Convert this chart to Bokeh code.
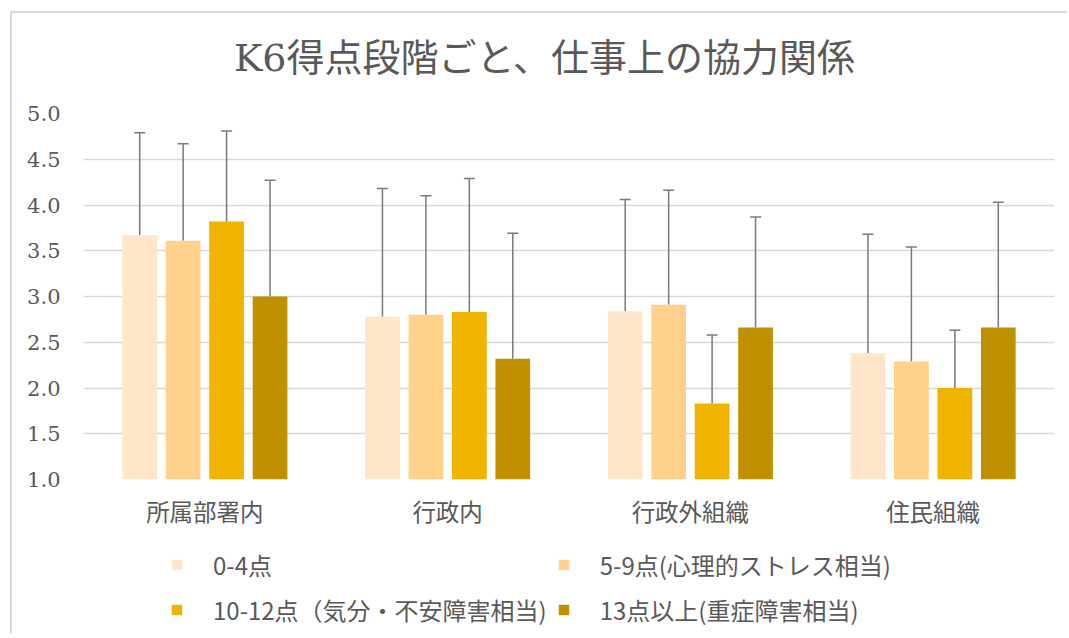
from bokeh.plotting import figure
from bokeh.layouts import column
from bokeh.models import (ColumnDataSource, FactorRange, Range1d, FixedTicker,
                          NumeralTickFormatter, Whisker, TeeHead, Legend, LegendItem, Label)
from bokeh.transform import dodge
from bokeh.embed import file_html
from bokeh.resources import INLINE

# ---- data ----
categories = ["所属部署内", "行政内", "行政外組織", "住民組織"]
series_names = ["0-4点", "5-9点(心理的ストレス相当)", "10-12点（気分・不安障害相当)", "13点以上(重症障害相当)"]
mean_0_4 = [3.67, 2.78, 2.84, 2.38]
mean_5_9 = [3.61, 2.80, 2.91, 2.29]
mean_10_12 = [3.82, 2.83, 1.83, 2.00]
mean_13 = [3.00, 2.32, 2.66, 2.66]
sd_0_4 = [1.12, 1.40, 1.22, 1.30]
sd_5_9 = [1.06, 1.30, 1.25, 1.25]
sd_10_12 = [0.99, 1.46, 0.75, 0.63]
sd_13 = [1.27, 1.37, 1.21, 1.37]
y_ticks = [1.0, 1.5, 2.0, 2.5, 3.0, 3.5, 4.0, 4.5, 5.0]
title_text = "K6得点段階ごと、仕事上の協力関係"

means = [mean_0_4, mean_5_9, mean_10_12, mean_13]
sds = [sd_0_4, sd_5_9, sd_10_12, sd_13]
colors = ["#FFE6C8", "#FFD18A", "#F0B400", "#BF9000"]

GRAY = "#595959"
CJK = "Noto Sans CJK JP"
W = 1055


def blank(height):
    f = figure(width=W, height=height, output_backend="svg", toolbar_location=None,
               x_axis_type=None, y_axis_type=None,
               x_range=Range1d(0, 1), y_range=Range1d(0, 1),
               min_border=0)
    f.outline_line_color = None
    f.grid.visible = False
    f.background_fill_color = "white"
    f.border_fill_color = "white"
    return f


# ---- title strip ----
ft = blank(80)
ft.add_layout(Label(x=461, y=36, x_units="screen", y_units="screen", text=title_text,
                    text_align="center", text_baseline="middle",
                    text_font="DejaVu Serif, Noto Sans CJK JP", text_font_size="38px",
                    text_color=GRAY))

# ---- main chart ----
p = figure(x_range=FactorRange(factors=categories, range_padding=0),
           y_range=Range1d(1.0, 5.0),
           width=W, height=440,
           output_backend="svg", toolbar_location=None,
           min_border_left=71, min_border_right=13,
           min_border_top=20, min_border_bottom=54)

p.outline_line_color = None
p.background_fill_color = "white"
p.border_fill_color = "white"

p.xgrid.grid_line_color = None
p.ygrid.grid_line_color = "#d9d9d9"
p.ygrid.grid_line_width = 1.5
p.ygrid.ticker = FixedTicker(ticks=y_ticks)

p.yaxis.ticker = FixedTicker(ticks=y_ticks)
p.yaxis.formatter = NumeralTickFormatter(format="0.0")
p.yaxis.axis_line_color = None
p.yaxis.major_tick_line_color = None
p.yaxis.minor_tick_line_color = None
p.yaxis.major_tick_out = 0
p.yaxis.major_label_standoff = 23
p.yaxis.major_label_text_font = "DejaVu Serif"
p.yaxis.major_label_text_font_size = "21px"
p.yaxis.major_label_text_color = GRAY

p.xaxis.axis_line_color = None
p.xaxis.major_tick_line_color = None
p.xaxis.major_tick_out = 0
p.xaxis.major_label_standoff = 14
p.xaxis.major_label_text_font = CJK
p.xaxis.major_label_text_font_size = "23.5px"
p.xaxis.major_label_text_color = GRAY

step = 0.179
bar_w = 0.143
for i in range(4):
    off = (i - 1.5) * step
    src = ColumnDataSource(dict(cat=categories, mean=means[i],
                                upper=[m + s for m, s in zip(means[i], sds[i])]))
    p.vbar(x=dodge("cat", off, range=p.x_range), top="mean", bottom=1.0,
           width=bar_w, source=src, fill_color=colors[i], line_color=None)
    p.add_layout(Whisker(source=src, base=dodge("cat", off, range=p.x_range),
                         upper="upper", lower="mean",
                         line_color="#7a7a7a", line_width=1.5,
                         upper_head=TeeHead(size=11, line_color="#7a7a7a", line_width=1.5),
                         lower_head=None))

# ---- legend strip (proxy renderers with no drawable data) ----
fl = blank(100)
items = []
nan = float("nan")
for i in range(4):
    r = fl.vbar(x=[nan], top=[nan], width=0.1, fill_color=colors[i], line_color=None)
    items.append(LegendItem(label=series_names[i], renderers=[r]))
legend = Legend(items=items, location=(87, 6), orientation="horizontal", ncols=2,
                border_line_color=None, background_fill_alpha=0,
                padding=0, margin=0, spacing=10,
                glyph_width=13, glyph_height=13, label_standoff=30,
                label_width=319, label_height=23,
                label_text_font=CJK, label_text_font_size="24px",
                label_text_color=GRAY)
fl.add_layout(legend)

layout = column(ft, p, fl, spacing=0)
layout.styles = {"margin-left": "10px", "margin-top": "11px",
                 "border-left": "2px solid #d9d9d9", "border-top": "2px solid #d9d9d9"}

open("out.html", "w").write(file_html(layout, INLINE))
